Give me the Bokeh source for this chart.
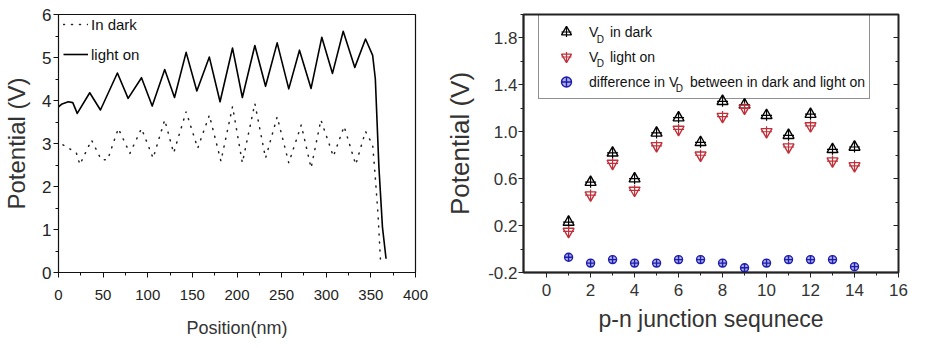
from bokeh.plotting import figure
from bokeh.models import (Legend, LegendItem, Range1d, LinearAxis, FixedTicker,
                          Label, PrintfTickFormatter, CustomJSTickFormatter)
from bokeh.layouts import row
from bokeh.embed import file_html
from bokeh.resources import INLINE

# ---------------- left panel data ----------------
light_x = [0, 4, 11, 16, 21, 35, 47, 66, 78, 93, 105, 119, 130, 143, 155, 169, 181,
           195, 206, 220, 232, 245, 258, 270, 283, 295, 307, 319, 332, 344, 352,
           355, 359, 363, 367]
light_y = [3.85, 3.92, 3.97, 3.95, 3.70, 4.18, 3.78, 4.64, 4.05, 4.53, 3.87, 4.72,
           4.07, 5.12, 4.22, 5.01, 3.97, 5.22, 4.07, 5.28, 4.33, 5.34, 4.27, 5.17,
           4.28, 5.47, 4.63, 5.61, 4.77, 5.43, 5.05, 4.50, 2.45, 1.05, 0.32]

dark_x = [5, 20, 24, 37, 48, 55, 67, 80, 93, 106, 119, 129, 143, 156, 169, 182, 195,
          206, 220, 232, 245, 258, 272, 283, 294, 308, 320, 333, 344, 352, 355, 358, 361]
dark_y = [2.97, 2.78, 2.51, 3.08, 2.62, 2.62, 3.35, 2.77, 3.35, 2.66, 3.55, 2.78,
          3.74, 2.89, 3.66, 2.59, 3.86, 2.55, 3.93, 2.66, 3.62, 2.55, 3.43, 2.43,
          3.55, 2.70, 3.40, 2.51, 3.28, 2.97, 2.20, 1.35, 0.20]

left_xticks = [0, 50, 100, 150, 200, 250, 300, 350, 400]
left_xminor = [25, 75, 125, 175, 225, 275, 325, 375]
left_yticks = [0, 1, 2, 3, 4, 5, 6]
left_yminor = [0.5, 1.5, 2.5, 3.5, 4.5, 5.5]

# ---------------- right panel data ----------------
seq = [1, 2, 3, 4, 5, 6, 7, 8, 9, 10, 11, 12, 13, 14]
v_dark = [0.23, 0.57, 0.82, 0.60, 0.99, 1.12, 0.91, 1.26, 1.23, 1.14, 0.97, 1.15, 0.85, 0.87]
v_light = [0.15, 0.46, 0.73, 0.50, 0.88, 1.02, 0.80, 1.13, 1.20, 1.00, 0.87, 1.05, 0.75, 0.71]
v_diff = [-0.07, -0.12, -0.09, -0.12, -0.12, -0.09, -0.09, -0.12, -0.16, -0.12, -0.09,
          -0.09, -0.09, -0.15]

right_xticks = [0, 2, 4, 6, 8, 10, 12, 14, 16]
right_xminor = [1, 3, 5, 7, 9, 11, 13, 15]
right_yticks = [-0.2, 0.2, 0.6, 1.0, 1.4, 1.8]
right_yminor = [0.0, 0.4, 0.8, 1.2, 1.6, 2.0]

legend_labels = ["V   in dark", "V   light on",
                 "difference in V   between in dark and light on"]
# subscript "D" anchors for the legend entries (data coords of the right panel)
sub_x = [2.28, 2.28, 5.87]
sub_y = [1.79, 1.58, 1.37]

SANS = "Liberation Sans"
H = 340

# ---------------- left figure ----------------
p1 = figure(width=442, height=H, x_range=Range1d(0, 400), y_range=Range1d(0, 6),
            output_backend="svg", toolbar_location=None,
            min_border_left=57, min_border_right=27, min_border_top=12, min_border_bottom=68)
p1.grid.visible = False
p1.outline_line_color = "#111111"
p1.outline_line_width = 1.2
p1.background_fill_color = "white"

r_dark = p1.line(dark_x, dark_y, line_color="#222222", line_width=1.5, line_dash="1 7",
                 line_cap="round")
r_light = p1.line(light_x, light_y, line_color="black", line_width=1.6, line_join="round")

p1.xaxis.ticker = FixedTicker(ticks=left_xticks, minor_ticks=left_xminor)
p1.yaxis.ticker = FixedTicker(ticks=left_yticks, minor_ticks=left_yminor)
for ax in (p1.xaxis[0], p1.yaxis[0]):
    ax.axis_line_color = "#111111"
    ax.major_tick_line_color = "#111111"
    ax.minor_tick_line_color = "#111111"
    ax.major_tick_in = 0
    ax.major_tick_out = 5
    ax.minor_tick_in = 0
    ax.minor_tick_out = 3
    ax.major_label_text_color = "#222222"
    ax.major_label_text_font = SANS
    ax.axis_label_text_font = SANS
    ax.axis_label_text_font_style = "normal"
    ax.axis_label_text_color = "#333333"
p1.xaxis.major_label_text_font_size = "15px"
p1.xaxis.major_label_standoff = 12
p1.xaxis.axis_label = "Position(nm)"
p1.xaxis.axis_label_text_font_size = "18px"
p1.xaxis.axis_label_standoff = 15
p1.yaxis.major_label_text_font_size = "17px"
p1.yaxis.major_label_standoff = 2
p1.yaxis.axis_label = "Potential (V)"
p1.yaxis.axis_label_text_font_size = "24px"
p1.yaxis.axis_label_standoff = 9

leg1 = Legend(items=[LegendItem(label="In dark", renderers=[r_dark]),
                     LegendItem(label="light on", renderers=[r_light])],
              location=(5, 208), padding=0, spacing=10, glyph_width=25, glyph_height=20,
              label_height=20, label_standoff=3, border_line_color=None,
              background_fill_alpha=0, label_text_font=SANS,
              label_text_font_size="15px", label_text_color="#111111")
p1.add_layout(leg1, "center")

# ---------------- right figure ----------------
p2 = figure(width=471, height=H, x_range=Range1d(-1.05, 16), y_range=Range1d(-0.2, 2.0),
            output_backend="svg", toolbar_location=None,
            min_border_left=73, min_border_right=15, min_border_top=14, min_border_bottom=65)
p2.grid.visible = False
p2.outline_line_color = "#222222"
p2.outline_line_width = 2
p2.background_fill_color = "white"

RED = "#c0303a"
BLUE = "#1c1cb0"
r_dt = p2.scatter(seq, v_dark, marker="triangle", size=11, line_color="black",
                  fill_color="white", fill_alpha=0.3, line_width=1.4)
r_dc = p2.scatter(seq, v_dark, marker="cross", size=11, line_color="black", line_width=1.2)
r_lt = p2.scatter(seq, v_light, marker="inverted_triangle", size=11, line_color=RED,
                  fill_color="white", fill_alpha=0.3, line_width=1.4)
r_lc = p2.scatter(seq, v_light, marker="cross", size=11, line_color=RED, line_width=1.2)
r_df = p2.scatter(seq, v_diff, marker="circle_cross", size=8, line_color=BLUE,
                  fill_color=BLUE, fill_alpha=0.35, line_width=1.4)

xa = p2.xaxis[0]
ya = p2.yaxis[0]
xa.ticker = FixedTicker(ticks=right_xticks, minor_ticks=right_xminor)
ya.ticker = FixedTicker(ticks=right_yticks, minor_ticks=right_yminor)
ya.formatter = PrintfTickFormatter(format="%.1f")
for ax in (xa, ya):
    ax.axis_line_color = "#222222"
    ax.axis_line_width = 1.5
    ax.major_tick_line_color = "#222222"
    ax.minor_tick_line_color = "#222222"
    ax.major_tick_in = 0
    ax.major_tick_out = 5
    ax.minor_tick_in = 0
    ax.minor_tick_out = 3
    ax.major_label_text_color = "#333333"
    ax.major_label_text_font = SANS
    ax.axis_label_text_font = SANS
    ax.axis_label_text_font_style = "normal"
    ax.axis_label_text_color = "#333333"

xa.major_label_text_font_size = "17px"
xa.major_label_standoff = 6
xa.axis_label = "p-n junction sequnece"
xa.axis_label_text_font_size = "23px"
xa.axis_label_standoff = 7
ya.major_label_text_font_size = "17px"
ya.major_label_standoff = 1
ya.axis_label = "Potential (V)"
ya.axis_label_text_font_size = "26px"
ya.axis_label_standoff = 10

yr = LinearAxis(ticker=FixedTicker(ticks=right_yticks, minor_ticks=right_yminor),
                formatter=CustomJSTickFormatter(code="return ''"),
                major_label_standoff=0,
                axis_line_color=None, major_tick_line_color="#222222",
                minor_tick_line_color="#222222", major_tick_in=5, major_tick_out=0,
                minor_tick_in=3, minor_tick_out=0)
p2.add_layout(yr, "right")

leg2 = Legend(items=[LegendItem(label=legend_labels[0], renderers=[r_dt, r_dc]),
                     LegendItem(label=legend_labels[1], renderers=[r_lt, r_lc]),
                     LegendItem(label=legend_labels[2], renderers=[r_df])],
              location=(15, 173), padding=4, spacing=0, glyph_width=46, glyph_height=25,
              label_height=25, label_standoff=-5, border_line_color="#222222",
              border_line_width=1.5, background_fill_alpha=0,
              label_text_font=SANS, label_text_font_size="14px", label_text_color="#111111")
p2.add_layout(leg2, "center")

for sx, sy in zip(sub_x, sub_y):
    p2.add_layout(Label(x=sx, y=sy, text="D",
                        text_font=SANS, text_font_size="10px", text_color="#111111",
                        text_baseline="middle"))

layout = row(p1, p2)
open("out.html", "w").write(file_html(layout, INLINE))
